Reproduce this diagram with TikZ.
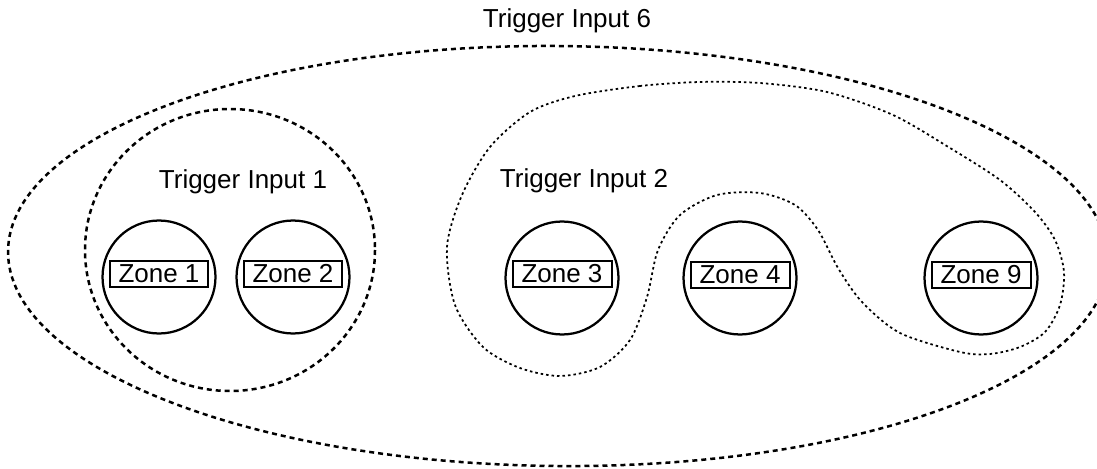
\documentclass[tikz,border=0pt]{standalone}
\usepackage{fontspec}
\setmainfont{Liberation Sans}
\usetikzlibrary{positioning}

\begin{document}
\begin{tikzpicture}[x=0.02cm, y=-0.02cm,
  zone/.style={draw, circle, line width=0.045cm, minimum size=2.26cm, inner sep=0pt},
  tag/.style={draw, line width=0.04cm, minimum width=1.98cm, inner xsep=0.1cm, inner ysep=0.07cm, font=\fontsize{14.8}{17}\selectfont},
  title/.style={anchor=base, inner sep=0pt, font=\fontsize{14.8}{17}\selectfont},
  wide/.style={line width=0.05cm, dash pattern=on 0.1cm off 0.08cm},
  fine/.style={line width=0.035cm, dash pattern=on 0.05cm off 0.06cm}]
  \useasboundingbox (0,0) rectangle (1097,469);
  % trigger areas
  \draw[wide, rotate around={-0.5:(558,256)}] (558,256) ellipse [x radius=550, y radius=210];
  \draw[wide] (230,250) ellipse [x radius=145, y radius=141];
  \draw[fine] plot[smooth cycle] coordinates {
    (700,82) (640,86) (575,96) (530,112) (490,147) (462,195) (447,247)
    (455,305) (483,347) (520,368) (560,376) (600,367) (630,340) (647,297)
    (658,250) (680,215) (717,195) (760,193) (795,205) (818,230) (838,268)
    (862,302) (900,333) (960,352) (990,354) (1020,347) (1045,332) (1060,305)
    (1064,272) (1055,240) (1035,212) (1000,180) (950,148) (893,115) (827,92)
    (760,83)};
  \node[title] (trig6) at (567,28) {Trigger Input 6};
  \node[title] (trig1) at (243,189) {Trigger Input 1};
  \node[title] (trig2) at (584,188) {Trigger Input 2};
  % zones
  \node[zone] (z1) at (159,277) {};
  \node[zone] (z2) at (293,277) {};
  \node[zone] (z3) at (562,278) {};
  \node[zone] (z4) at (740,278) {};
  \node[zone] (z9) at (981,278) {};
  \node[tag, yshift=0.06cm] (lz1) at (z1) {Zone 1};
  \node[tag, yshift=0.06cm] (lz2) at (z2) {Zone 2};
  \node[tag, yshift=0.08cm] (lz3) at (z3) {Zone 3};
  \node[tag, yshift=0.06cm] (lz4) at (z4) {Zone 4};
  \node[tag, yshift=0.06cm] (lz9) at (z9) {Zone 9};
\end{tikzpicture}
\end{document}
